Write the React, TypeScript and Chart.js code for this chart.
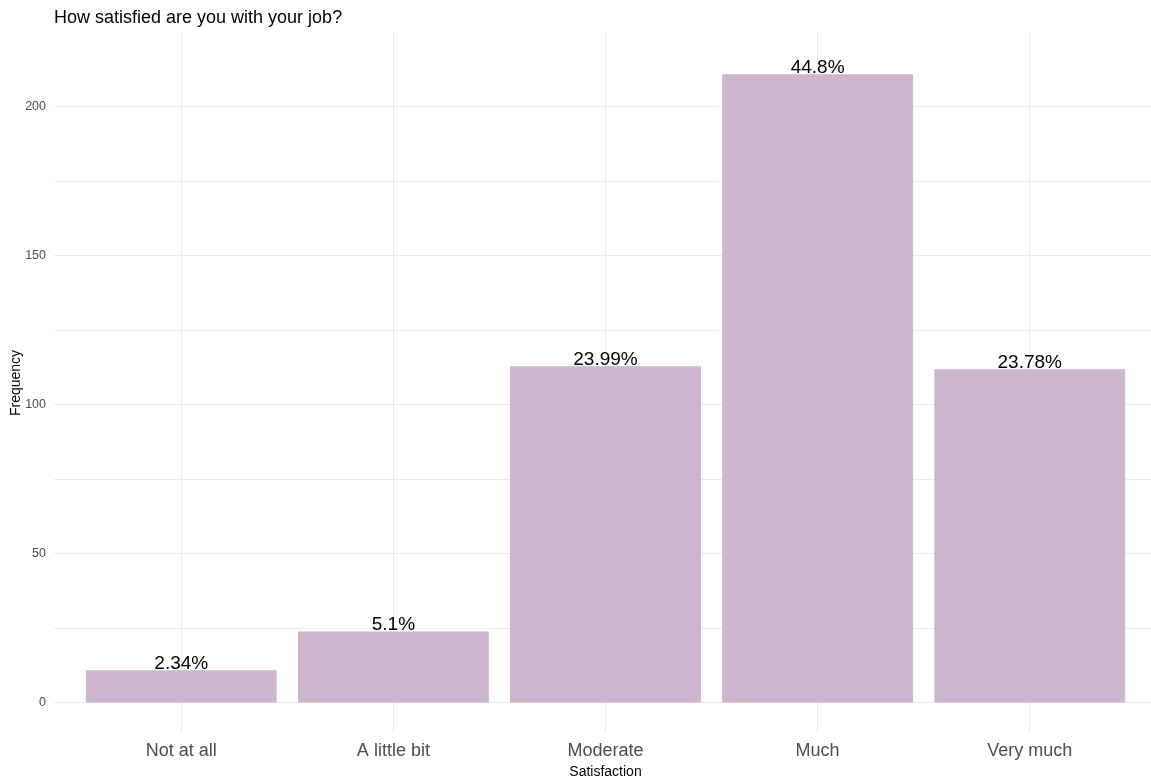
import React, { useEffect, useRef } from "react";
import { Chart, registerables } from "chart.js";

Chart.register(...registerables);

const categories = ["Not at all", "A little bit", "Moderate", "Much", "Very much"];
const frequencies = [11, 24, 113, 211, 112];
const percentLabels = ["2.34%", "5.1%", "23.99%", "44.8%", "23.78%"];
const yTickValues = [0, 25, 50, 75, 100, 125, 150, 175, 200];
const chartTitle = "How satisfied are you with your job?";
const xTitle = "Satisfaction";
const yTitle = "Frequency";

const FONT = "'Liberation Sans', Arial, sans-serif";

const textPlugin = {
  id: "textPlugin",
  afterDatasetsDraw(chart: any) {
    const ctx = chart.ctx;
    const meta = chart.getDatasetMeta(0);
    ctx.save();
    ctx.fillStyle = "#000000";
    ctx.font = `19px ${FONT}`;
    ctx.textAlign = "center";
    ctx.textBaseline = "alphabetic";
    meta.data.forEach((bar: any, i: number) => {
      ctx.fillText(percentLabels[i], bar.x, bar.y - 1);
    });
    ctx.restore();
  },
  afterDraw(chart: any) {
    const ctx = chart.ctx;
    const area = chart.chartArea;
    ctx.save();
    ctx.fillStyle = "#000000";
    ctx.font = `18px ${FONT}`;
    ctx.textAlign = "left";
    ctx.textBaseline = "alphabetic";
    ctx.fillText(chartTitle, area.left, 23);

    ctx.font = `14px ${FONT}`;
    ctx.textAlign = "center";
    ctx.textBaseline = "middle";
    ctx.fillText(xTitle, (area.left + area.right) / 2, 772);

    ctx.translate(16, (area.top + area.bottom) / 2);
    ctx.rotate(-Math.PI / 2);
    ctx.fillText(yTitle, 0, 0);
    ctx.restore();
  },
};

export default function App() {
  const canvasRef = useRef<HTMLCanvasElement | null>(null);

  useEffect(() => {
    const canvas = canvasRef.current;
    if (!canvas) return;
    const chart = new Chart(canvas, {
      type: "bar",
      data: {
        datasets: [
          {
            data: frequencies.map((v, i) => ({ x: i, y: v })),
            backgroundColor: "#CDB5CD",
            borderWidth: 0,
            categoryPercentage: 1,
            barPercentage: 0.9,
          },
        ],
      },
      options: {
        responsive: false,
        animation: false,
        layout: { padding: { top: 33, left: 0, right: 0, bottom: 0 } },
        plugins: {
          legend: { display: false },
          tooltip: { enabled: false },
          title: { display: false },
        },
        scales: {
          x: {
            type: "linear",
            min: -0.6,
            max: 4.6,
            offset: false,
            afterBuildTicks: (scale: any) => {
              scale.ticks = categories.map((_, i) => ({ value: i }));
            },
            afterFit: (scale: any) => {
              scale.height = 45;
            },
            ticks: {
              autoSkip: false,
              maxRotation: 0,
              minRotation: 0,
              padding: 7,
              color: "#4D4D4D",
              font: { family: FONT, size: 18 },
              callback: (v: any) => categories[v as number] ?? "",
            },
            grid: { color: "#EBEBEB", lineWidth: 1, drawTicks: false, offset: false },
            border: { display: false },
          },
          y: {
            type: "linear",
            min: -10.07,
            max: 224.83,
            afterBuildTicks: (scale: any) => {
              scale.ticks = yTickValues.map((v) => ({ value: v }));
            },
            afterFit: (scale: any) => {
              scale.width = 54;
            },
            ticks: {
              padding: 8,
              color: "#4D4D4D",
              font: { family: FONT, size: 12.5 },
              callback: (v: any) => ((v as number) % 50 === 0 ? String(v) : ""),
            },
            grid: { color: "#EBEBEB", lineWidth: 1, drawTicks: false },
            border: { display: false },
          },
        },
      },
      plugins: [textPlugin],
    });
    return () => chart.destroy();
  }, []);

  return (
    <div
      style={{
        position: "fixed",
        left: 0,
        top: 0,
        width: 1151,
        height: 778,
        overflow: "hidden",
        background: "#ffffff",
      }}
    >
      <canvas
        ref={canvasRef}
        width={1157}
        height={778}
        style={{ display: "block", width: 1157, height: 778 }}
      />
    </div>
  );
}
